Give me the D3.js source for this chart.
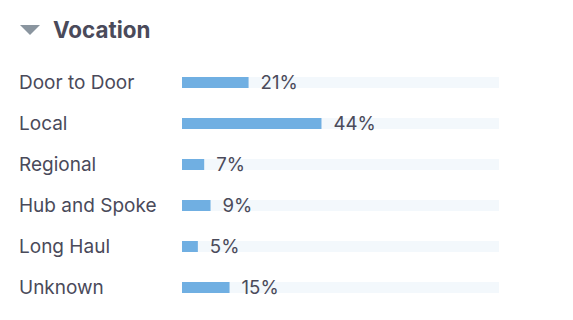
<!DOCTYPE html>
<html>
<head>
<meta charset="utf-8">
<script src="https://cdn.jsdelivr.net/npm/d3@7"></script>
<style>
  body { margin: 0; background: #fff; font-family: Inter, "Noto Sans", sans-serif; }
</style>
</head>
<body>
<div id="chart"></div>
<script>
var title = "Vocation";
var categories = ["Door to Door", "Local", "Regional", "Hub and Spoke", "Long Haul", "Unknown"];
var percents = [21, 44, 7, 9, 5, 15];

var width = 573;
var height = 320;

var svg = d3.select("#chart").append("svg")
  .attr("width", width)
  .attr("height", height);

// header: collapse triangle + title
svg.append("path")
  .attr("d", "M20,25 L40,25 L30,35 Z")
  .attr("fill", "#8a959f");

svg.append("text")
  .attr("x", 53)
  .attr("y", 37.5)
  .attr("font-size", "22.4px")
  .attr("font-weight", 700)
  .attr("fill", "#4a4a5a")
  .text(title);

var xScale = d3.scaleLinear()
  .domain([0, 100])
  .range([182, 499]);

var yScale = d3.scaleBand()
  .domain(categories)
  .range([62, 308])
  .paddingInner(0);

var barH = 11;

var rows = svg.append("g").selectAll("g")
  .data(categories).enter()
  .append("g")
  .attr("transform", d => `translate(0, ${yScale(d) + yScale.bandwidth() / 2})`);

rows.append("text")
  .attr("x", 19)
  .attr("y", 6)
  .attr("font-size", "19px")
  .attr("fill", "#4a4a5a")
  .text(d => d);

rows.append("rect")
  .attr("x", xScale(0))
  .attr("y", -barH / 2)
  .attr("width", xScale(100) - xScale(0))
  .attr("height", barH)
  .attr("fill", "#f3f8fc");

rows.append("rect")
  .attr("x", xScale(0))
  .attr("y", -barH / 2)
  .attr("width", (d, i) => xScale(percents[i]) - xScale(0))
  .attr("height", barH)
  .attr("fill", "#70afe2");

rows.append("text")
  .attr("x", (d, i) => xScale(percents[i]) + 12)
  .attr("y", 6)
  .attr("font-size", "18.6px")
  .attr("fill", "#4a4a5a")
  .text((d, i) => percents[i] + "%");
</script>
</body>
</html>
